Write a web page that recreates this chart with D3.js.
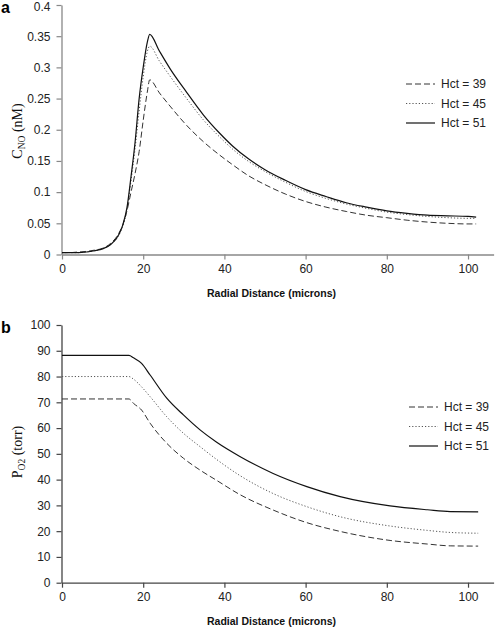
<!DOCTYPE html>
<html><head><meta charset="utf-8">
<script src="https://cdn.jsdelivr.net/npm/d3@7"></script>
<style>
body{margin:0;background:#fff;}
svg{display:block;}
</style></head>
<body>
<svg id="c" width="497" height="629"></svg>
<script>
// ---- Data ----
const seriesNames = ["Hct = 39", "Hct = 45", "Hct = 51"];

// Panel a: C_NO (nM) vs radial distance (microns)
const rA = [0,2,4,6,8,10,12,14,15,16,17,18,19,20,21,21.6,24,26.6,30.7,34.8,38.9,42,46,50,55,60,65,70,75,80,85,90,95,100,102];
const cno39 = [0.003,0.003,0.004,0.005,0.007,0.010,0.018,0.034,0.048,0.070,0.100,0.130,0.165,0.215,0.260,0.280,0.259,0.238,0.207,0.181,0.159,0.144,0.126,0.112,0.097,0.085,0.076,0.069,0.063,0.059,0.055,0.052,0.050,0.049,0.049];
const cno45 = [0.003,0.003,0.003,0.004,0.006,0.009,0.016,0.031,0.046,0.072,0.118,0.170,0.230,0.285,0.325,0.334,0.310,0.286,0.250,0.216,0.188,0.169,0.149,0.133,0.116,0.101,0.090,0.081,0.074,0.068,0.064,0.061,0.059,0.058,0.058];
const cno51 = [0.003,0.003,0.003,0.004,0.006,0.009,0.016,0.032,0.048,0.075,0.125,0.180,0.250,0.300,0.340,0.353,0.326,0.298,0.260,0.224,0.194,0.174,0.153,0.136,0.119,0.104,0.093,0.083,0.076,0.070,0.066,0.063,0.062,0.061,0.060];
const yTicksA = [0,0.05,0.1,0.15,0.2,0.25,0.3,0.35,0.4];

// Panel b: P_O2 (torr) vs radial distance (microns)
const rB = [0,16.5,17.6,19.6,21.7,25.8,29.9,34,38.1,43.8,52,60.3,68.5,80.8,90,95.6,102.5];
const po2_39 = [71.3,71.3,69.6,67.0,61.9,54.1,48.3,43.7,39.7,34.2,28.2,23.3,19.9,16.4,15.0,14.3,14.2];
const po2_45 = [80.0,80.0,79.0,76.0,72.2,64.4,58.0,52.8,47.8,41.6,34.6,29.5,25.6,22.0,20.3,19.5,19.2];
const po2_51 = [88.2,88.2,87.3,85.1,80.6,71.6,65.1,59.3,54.5,49.0,42.4,37.3,33.4,29.8,28.3,27.6,27.5];
const yTicksB = [0,10,20,30,40,50,60,70,80,90,100];

const xTicks = [0,20,40,60,80,100];

// ---- Styles ----
const styles = [
  {stroke:"#333", width:1, dash:"6,3"},
  {stroke:"#555", width:1, dash:"1.2,2"},
  {stroke:"#111", width:1.2, dash:null}
];

const svg = d3.select("#c");
const font = "'Liberation Sans', Arial, sans-serif";

function panel(opts){
  const g = svg.append("g");
  const x = d3.scaleLinear().domain([0,106.3]).range([62,493.6]);
  const y = d3.scaleLinear().domain(opts.yDomain).range(opts.yRange);

  // x axis
  const xa = g.append("g").attr("transform",`translate(0,${opts.yRange[0]})`)
    .call(d3.axisBottom(x).tickValues(xTicks).tickSize(5).tickPadding(5).tickSizeOuter(0));
  xa.select(".domain").attr("stroke",opts.axisColor).attr("stroke-width",1.3);
  xa.selectAll(".tick line").attr("stroke",opts.axisColor).attr("stroke-width",1.2);
  xa.selectAll("text").attr("font-family",font).attr("font-size",12).attr("fill","#222");

  // y axis
  const ya = g.append("g").attr("transform",`translate(61.5,0)`)
    .call(d3.axisLeft(y).tickValues(opts.yTicks).tickFormat(opts.fmt).tickSize(5).tickPadding(6).tickSizeOuter(0));
  ya.select(".domain").attr("stroke",opts.axisColor).attr("stroke-width",1.3);
  ya.selectAll(".tick line").attr("stroke",opts.axisColor).attr("stroke-width",1.2);
  ya.selectAll("text").attr("font-family",font).attr("font-size",12).attr("fill","#222");
  // keep top label inside the picture
  ya.selectAll(".tick text").filter(d=>y(d) < 8).attr("dy","0.45em");

  // lines
  const line = d3.line().x(d=>x(d[0])).y(d=>y(d[1])).curve(d3.curveMonotoneX);
  opts.series.forEach((vals,i)=>{
    const st = styles[i];
    g.append("path")
      .datum(opts.r.map((rv,j)=>[rv,vals[j]]))
      .attr("fill","none").attr("stroke",st.stroke).attr("stroke-width",st.width)
      .attr("stroke-dasharray",st.dash).attr("d",line);
  });

  // x title
  g.append("text").attr("x",271.5).attr("y",opts.xTitleY).attr("text-anchor","middle")
    .attr("font-family",font).attr("font-weight","bold").attr("font-size",10.5).attr("fill","#111")
    .text("Radial Distance (microns)");

  // y title
  const yt = g.append("text").attr("transform",`translate(${opts.yTitleX},${opts.yTitleY}) rotate(-90)`)
    .attr("text-anchor","middle").attr("font-family","'Liberation Serif', 'Times New Roman', serif")
    .attr("font-size",14).attr("fill","#111");
  yt.append("tspan").text(opts.yMain);
  yt.append("tspan").attr("font-size",9.5).attr("dy",3).text(opts.ySub);
  yt.append("tspan").attr("dy",-3).text(opts.yUnit);

  // panel letter
  g.append("text").attr("x",1).attr("y",opts.letterY).attr("font-family",font)
    .attr("font-weight","bold").attr("font-size",16).attr("fill","#000").text(opts.letter);

  // legend
  const lg = g.append("g");
  seriesNames.forEach((nm,i)=>{
    const st = styles[i];
    const yy = opts.legY + i*19.5;
    lg.append("line").attr("x1",opts.legX).attr("x2",opts.legX+29).attr("y1",yy).attr("y2",yy)
      .attr("stroke",st.stroke).attr("stroke-width",st.width).attr("stroke-dasharray",st.dash);
    lg.append("text").attr("x",opts.legX+35).attr("y",yy+4.3).attr("font-family",font)
      .attr("font-size",12).attr("fill","#222").text(nm);
  });
}

panel({
  r:rA, series:[cno39,cno45,cno51],
  yDomain:[0,0.4], yRange:[254.5,5], yTicks:yTicksA, fmt:d3.format("~g"),
  axisColor:"#888", xTitleY:297,
  yTitleX:22, yTitleY:131, yMain:"C", ySub:"NO", yUnit:" (nM)",
  letter:"a", letterY:13, legX:406, legY:84
});

panel({
  r:rB, series:[po2_39,po2_45,po2_51],
  yDomain:[0,100], yRange:[582.7,325], yTicks:yTicksB, fmt:d3.format("d"),
  axisColor:"#444", xTitleY:625,
  yTitleX:22, yTitleY:452, yMain:"P", ySub:"O2", yUnit:" (torr)",
  letter:"b", letterY:333, legX:409, legY:407
});
</script>
</body></html>
